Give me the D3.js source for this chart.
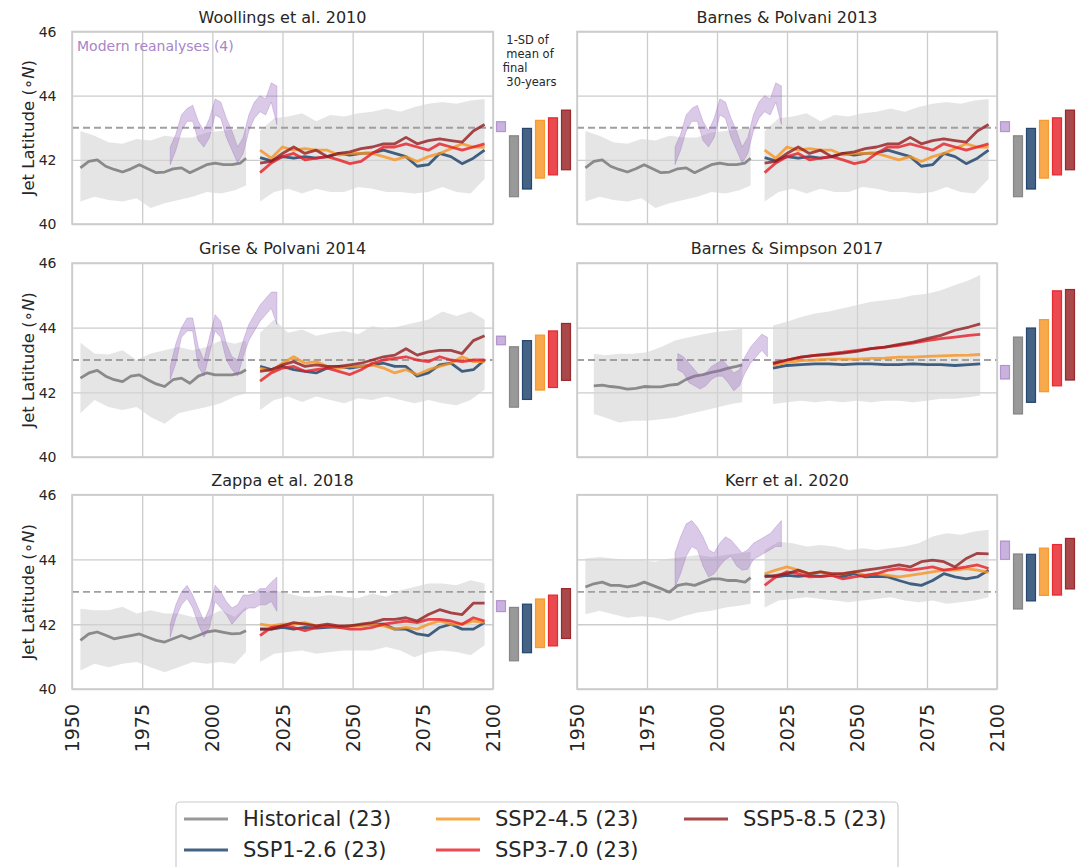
<!DOCTYPE html>
<html lang="en">
<head>
<meta charset="UTF-8">
<title>Jet Latitude projections</title>
<script src="https://d3js.org/d3.v7.min.js"></script>
<style>
  body { margin: 0; background: #fff; font-family: 'DejaVu Sans', sans-serif; }
  svg text { fill: #262626; font-family: 'DejaVu Sans', sans-serif; }
</style>
</head>
<body>
<svg id="chart" width="1085" height="867"></svg>
<script>
// ---- axes ----
const xTicks = [1950, 1975, 2000, 2025, 2050, 2075, 2100];
const yTicks = [40, 42, 44, 46];
const refLat = 43;

// ---- shared year grids ----
const histYears = [1953,1956,1959,1962,1965,1968,1971,1974,1977,1980,1983,1986,1989,1992,1995,1998,2001,2004,2007,2010,2012];
const histBandYears = [1953,1958,1963,1968,1973,1978,1983,1988,1993,1998,2003,2008,2012];
const scenYears = [2017,2021,2025,2029,2033,2037,2041,2045,2049,2053,2057,2061,2065,2069,2073,2077,2081,2085,2089,2093,2097];
const scenBandYears = [2017,2022,2027,2032,2037,2042,2047,2052,2057,2062,2067,2072,2077,2082,2087,2092,2097];
const reanYears = [1985,1987,1989,1991,1993,1995,1997,1999,2001,2003,2005,2007,2009,2011,2013,2015,2017,2019,2021,2023];

// Barnes & Simpson uses a wider smoothing window
const bsHistYears = [1956,1959,1962,1965,1968,1971,1974,1977,1980,1983,1986,1989,1992,1995,1998,2001,2004,2007,2009];
const bsHistBandYears = [1956,1960,1965,1970,1975,1980,1985,1990,1995,2000,2005,2009];
const bsScenYears = [2020,2025,2030,2035,2040,2045,2050,2055,2060,2065,2070,2075,2080,2085,2090,2094];
const bsReanYears = [1986,1988,1990,1992,1994,1996,1998,2000,2002,2004,2006,2008,2010,2012,2014,2016,2018];

// ---- Woollings et al. 2010 (also Barnes & Polvani 2013) ----
const woolHist = [41.75,41.95,42.0,41.8,41.7,41.62,41.72,41.85,41.72,41.6,41.62,41.72,41.75,41.6,41.72,41.85,41.9,41.85,41.85,41.9,42.05];
const woolHistHi = [42.9,42.75,42.55,42.5,42.65,42.6,42.75,42.7,42.7,42.85,42.9,42.95,43.0];
const woolHistLo = [40.7,40.85,40.75,40.7,40.8,40.5,40.65,40.75,40.85,41.0,40.95,41.05,41.2];
const woolScenHi = [42.9,43.3,43.35,43.45,43.2,43.4,43.35,43.45,43.5,43.6,43.5,43.65,43.75,43.8,43.75,43.85,43.9];
const woolScenLo = [40.7,41.0,41.1,40.95,41.1,41.0,41.0,41.15,41.1,41.0,41.0,40.95,41.0,41.15,41.0,40.95,41.4];
const woolSsp126 = [42.07,41.97,42.1,42.05,42.1,42.05,42.1,42.2,42.15,42.2,42.22,42.3,42.2,42.1,41.8,41.85,42.2,42.1,41.88,42.05,42.3];
const woolSsp245 = [42.3,42.05,42.4,42.3,42.35,42.3,42.3,42.15,42.2,42.2,42.2,42.1,42.0,42.1,41.95,42.1,42.2,42.35,42.5,42.4,42.4];
const woolSsp370 = [41.6,41.9,42.1,42.2,42.0,42.05,42.1,42.0,41.88,41.95,42.2,42.4,42.4,42.5,42.4,42.3,42.5,42.4,42.3,42.4,42.5];
const woolSsp585 = [41.9,41.95,42.2,42.4,42.2,42.3,42.1,42.2,42.25,42.35,42.4,42.5,42.5,42.7,42.5,42.6,42.65,42.6,42.55,42.9,43.1];
const woolReanHi = [42.4,42.8,43.4,43.6,43.7,43.2,42.9,43.3,43.9,43.8,43.3,42.9,42.4,42.7,43.4,43.8,44.0,43.9,44.4,44.3];
const woolReanLo = [41.85,42.3,42.9,43.2,43.2,42.6,42.4,42.7,43.4,43.3,42.7,42.3,41.9,42.2,42.9,43.3,43.5,43.4,43.8,43.1];
const woolBarLo = [42.88,40.85,41.09,41.43,41.53,41.69];
const woolBarHi = [43.19,42.75,42.98,43.23,43.31,43.55];

// ---- Grise & Polvani 2014 ----
const griseHist = [42.44,42.6,42.68,42.5,42.39,42.33,42.5,42.54,42.39,42.26,42.18,42.39,42.44,42.28,42.5,42.6,42.54,42.54,42.54,42.6,42.7];
const griseHistHi = [43.53,43.2,43.17,43.3,43.0,43.2,43.3,43.4,43.3,43.4,43.6,43.5,43.6];
const griseHistLo = [41.35,41.76,41.55,41.45,41.55,41.24,41.03,41.35,41.45,41.55,41.66,41.87,41.97];
const griseScenHi = [43.84,44.25,43.84,43.94,43.75,43.84,43.9,43.8,44.05,43.94,44.05,44.15,44.25,44.5,44.36,44.5,44.25];
const griseScenLo = [41.45,41.76,41.87,41.7,41.87,41.76,41.66,41.82,41.76,41.87,41.76,41.66,41.76,41.66,41.6,41.76,42.08];
const griseSsp126 = [42.8,42.7,42.8,42.7,42.65,42.6,42.75,42.8,42.75,42.8,42.85,42.9,42.8,42.8,42.5,42.6,42.85,42.9,42.65,42.7,43.0];
const griseSsp245 = [42.75,42.65,42.9,43.1,42.9,42.95,42.8,42.75,42.8,42.8,42.85,42.75,42.6,42.7,42.55,42.7,42.8,42.9,43.1,42.95,42.95];
const griseSsp370 = [42.35,42.6,42.75,42.8,42.65,42.7,42.75,42.65,42.55,42.7,42.9,43.0,43.05,43.1,43.0,42.95,43.1,43.0,42.95,43.0,43.0];
const griseSsp585 = [42.65,42.7,42.85,42.95,42.8,42.85,42.8,42.8,42.85,42.9,43.0,43.1,43.15,43.35,43.15,43.25,43.3,43.3,43.2,43.6,43.75];
const griseReanHi = [42.8,43.5,44.0,44.3,44.3,43.4,43.0,43.7,44.4,44.2,43.5,43.1,43.0,43.6,44.1,44.4,44.7,44.9,45.1,45.1];
const griseReanLo = [42.4,42.9,43.7,43.9,43.9,42.8,42.5,43.2,43.9,43.7,43.0,42.7,42.5,43.1,43.6,43.9,44.2,44.4,44.6,44.1];
const griseBarLo = [43.47,41.54,41.78,42.07,42.15,42.37];
const griseBarHi = [43.74,43.41,43.6,43.77,43.9,44.13];

// ---- Zappa et al. 2018 ----
const zappaHist = [41.5,41.7,41.76,41.66,41.55,41.6,41.65,41.7,41.6,41.5,41.45,41.55,41.65,41.55,41.65,41.76,41.8,41.75,41.7,41.72,41.8];
const zappaHistHi = [42.48,42.43,42.43,42.54,42.33,42.43,42.33,42.33,42.22,42.22,42.43,42.22,42.54];
const zappaHistLo = [40.57,40.78,40.67,40.78,40.83,40.67,40.52,40.67,40.83,40.78,40.83,40.78,41.14];
const zappaScenHi = [42.95,43.05,42.95,42.85,42.85,42.9,42.85,42.8,42.95,42.85,43.05,43.15,43.26,43.26,43.2,43.36,43.26];
const zappaScenLo = [40.83,41.09,41.14,41.19,41.09,41.14,41.19,41.19,41.19,41.3,41.19,40.98,41.14,41.19,41.14,41.04,41.35];
const zappaSsp126 = [41.85,41.85,41.9,41.85,41.9,41.88,41.9,41.92,41.95,41.97,42.0,42.0,41.85,41.85,41.7,41.65,41.9,42.0,41.85,41.85,42.05];
const zappaSsp245 = [42.0,41.95,42.0,42.0,42.05,41.95,41.95,41.9,41.95,41.95,42.0,41.95,41.85,41.9,41.85,42.0,42.1,42.0,42.0,42.1,42.05];
const zappaSsp370 = [41.65,41.9,41.95,41.9,41.8,41.9,41.95,41.9,41.85,41.85,41.9,42.0,42.05,42.1,42.05,42.15,42.15,42.1,42.0,42.2,42.1];
const zappaSsp585 = [41.85,41.85,41.95,42.05,42.0,41.95,42.0,41.95,41.95,42.0,42.05,42.15,42.15,42.2,42.1,42.3,42.45,42.35,42.3,42.65,42.65];
const zappaReanHi = [42.0,42.6,43.0,43.2,42.9,42.5,42.1,42.5,43.2,43.0,42.7,42.5,42.6,42.9,42.9,42.95,43.1,43.1,43.3,43.45];
const zappaReanLo = [41.6,42.2,42.6,42.8,42.5,42.0,41.6,41.9,42.7,42.5,42.3,42.0,42.2,42.4,42.5,42.5,42.6,42.6,42.7,42.4];
const zappaBarLo = [42.39,40.87,41.12,41.28,41.33,41.56];
const zappaBarHi = [42.73,42.52,42.62,42.78,42.9,43.1];

// ---- Barnes & Simpson 2017 ----
const bsHist = [42.2,42.22,42.18,42.15,42.1,42.12,42.18,42.17,42.17,42.22,42.25,42.4,42.5,42.55,42.62,42.67,42.75,42.8,42.85];
const bsHistHi = [43.19,43.15,43.19,43.19,43.24,43.4,43.6,43.7,43.8,43.87,43.92,43.97];
const bsHistLo = [41.33,41.22,41.07,41.12,41.12,41.17,41.22,41.33,41.43,41.53,41.64,41.69];
const bsScenHi = [44.07,44.18,44.33,44.44,44.5,44.6,44.7,44.8,44.85,44.9,45.0,45.05,45.16,45.32,45.47,45.63];
const bsScenLo = [41.64,41.69,41.74,41.69,41.74,41.69,41.74,41.69,41.74,41.74,41.69,41.74,41.8,41.8,41.85,41.9];
const bsSsp126 = [42.75,42.83,42.86,42.88,42.88,42.86,42.88,42.88,42.86,42.86,42.88,42.86,42.86,42.83,42.86,42.88];
const bsSsp245 = [42.83,42.93,42.98,43.0,43.03,43.03,43.03,43.05,43.06,43.09,43.09,43.11,43.13,43.14,43.15,43.17];
const bsSsp370 = [42.88,43.0,43.09,43.14,43.19,43.24,43.3,43.35,43.4,43.45,43.52,43.6,43.66,43.71,43.76,43.79];
const bsSsp585 = [42.9,43.0,43.09,43.14,43.17,43.21,43.27,43.35,43.4,43.48,43.55,43.66,43.76,43.92,44.02,44.12];
const bsReanHi = [43.2,43.1,42.9,42.7,42.5,42.6,42.8,42.9,43.0,42.8,42.6,42.7,43.1,43.4,43.6,43.8,43.7];
const bsReanLo = [42.7,42.6,42.3,42.2,42.1,42.2,42.4,42.5,42.5,42.3,42.05,42.2,42.6,42.9,43.1,43.3,43.1];
const bsBarLo = [42.41,41.33,41.69,42.02,42.2,42.38];
const bsBarHi = [42.83,43.71,43.99,44.25,45.14,45.18];

// ---- Kerr et al. 2020 ----
const kerrHist = [43.15,43.25,43.3,43.2,43.2,43.15,43.2,43.3,43.2,43.1,42.99,43.2,43.25,43.2,43.3,43.4,43.4,43.35,43.35,43.3,43.44];
const kerrHistHi = [44.03,44.08,44.03,43.98,43.98,43.93,44.03,44.08,44.14,44.08,44.14,44.19,44.24];
const kerrHistLo = [42.31,42.42,42.31,42.2,42.25,42.2,42.1,42.25,42.36,42.42,42.52,42.57,42.63];
const kerrScenHi = [44.29,44.55,44.5,44.4,44.45,44.4,44.29,44.35,44.29,44.35,44.4,44.5,44.71,44.81,44.76,44.86,44.92];
const kerrScenLo = [42.52,42.73,42.78,42.83,42.78,42.73,42.68,42.73,42.78,42.83,42.73,42.68,42.73,42.63,42.68,42.73,42.83];
const kerrSsp126 = [43.51,43.46,43.51,43.48,43.51,43.48,43.51,43.48,43.56,43.46,43.48,43.46,43.35,43.25,43.2,43.35,43.56,43.46,43.4,43.46,43.67];
const kerrSsp245 = [43.56,43.67,43.77,43.67,43.56,43.62,43.51,43.56,43.62,43.51,43.56,43.51,43.46,43.51,43.56,43.62,43.67,43.67,43.72,43.67,43.6];
const kerrSsp370 = [43.2,43.46,43.62,43.56,43.46,43.48,43.51,43.4,43.46,43.51,43.56,43.67,43.72,43.67,43.72,43.77,43.67,43.72,43.77,43.83,43.72];
const kerrSsp585 = [43.46,43.51,43.56,43.67,43.56,43.62,43.56,43.56,43.62,43.67,43.72,43.77,43.83,43.77,43.93,43.98,43.93,43.77,44.03,44.19,44.17];
const kerrReanHi = [44.2,44.7,45.1,45.2,45.0,44.7,44.3,44.2,44.5,44.7,44.6,44.4,44.2,44.3,44.5,44.6,44.7,44.8,45.0,45.2];
const kerrReanLo = [43.15,43.56,44.1,44.4,44.3,43.8,43.46,43.56,43.8,44.0,44.1,43.8,43.67,43.7,44.0,44.1,44.2,44.3,44.4,44.4];
const kerrBarLo = [44.0,42.47,42.72,42.89,42.9,43.09];
const kerrBarHi = [44.57,44.17,44.16,44.35,44.46,44.65];

// ---- legend ----
const legendLabels = ["Historical (23)", "SSP1-2.6 (23)", "SSP2-4.5 (23)", "SSP3-7.0 (23)", "SSP5-8.5 (23)"];

// colours (IPCC scenario palette, drawn at 0.8 alpha)
const histColor = "#808080";
const sspColors = ["#173c66", "#f79420", "#e71d25", "#951b1e"];
const reanColor = "#9467bd";
const barColors = [reanColor, histColor].concat(sspColors);

// layout
const cols = [{x0: 72, x1: 493}, {x0: 577, x1: 997}];
const rows = [{y0: 31.5, y1: 224}, {y0: 263, y1: 457}, {y0: 494.7, y1: 689}];

const zip = (xs, ys) => xs.map((v, i) => [v, ys[i]]);

function panelData(title, col, row, yrs, h, hHi, hLo, sHi, sLo, sspArr, rHi, rLo, bLo, bHi) {
  return {
    title, col, row,
    hist: zip(yrs.hist, h),
    histBand: yrs.histBand.map((v, i) => ({x: v, lo: hLo[i], hi: hHi[i]})),
    scenBand: yrs.scenBand.map((v, i) => ({x: v, lo: sLo[i], hi: sHi[i]})),
    ssp: sspArr.map(a => zip(yrs.scen, a)),
    rean: yrs.rean.map((v, i) => ({x: v, lo: rLo[i], hi: rHi[i]})),
    bars: bLo.map((v, i) => ({i, lo: v, hi: bHi[i]}))
  };
}

const stdYears = {hist: histYears, histBand: histBandYears, scen: scenYears, scenBand: scenBandYears, rean: reanYears};
const bsYears = {hist: bsHistYears, histBand: bsHistBandYears, scen: bsScenYears, scenBand: bsScenYears, rean: bsReanYears};

const panels = [
  panelData("Woollings et al. 2010", 0, 0, stdYears, woolHist, woolHistHi, woolHistLo, woolScenHi, woolScenLo,
    [woolSsp126, woolSsp245, woolSsp370, woolSsp585], woolReanHi, woolReanLo, woolBarLo, woolBarHi),
  panelData("Barnes & Polvani 2013", 1, 0, stdYears, woolHist, woolHistHi, woolHistLo, woolScenHi, woolScenLo,
    [woolSsp126, woolSsp245, woolSsp370, woolSsp585], woolReanHi, woolReanLo, woolBarLo, woolBarHi),
  panelData("Grise & Polvani 2014", 0, 1, stdYears, griseHist, griseHistHi, griseHistLo, griseScenHi, griseScenLo,
    [griseSsp126, griseSsp245, griseSsp370, griseSsp585], griseReanHi, griseReanLo, griseBarLo, griseBarHi),
  panelData("Barnes & Simpson 2017", 1, 1, bsYears, bsHist, bsHistHi, bsHistLo, bsScenHi, bsScenLo,
    [bsSsp126, bsSsp245, bsSsp370, bsSsp585], bsReanHi, bsReanLo, bsBarLo, bsBarHi),
  panelData("Zappa et al. 2018", 0, 2, stdYears, zappaHist, zappaHistHi, zappaHistLo, zappaScenHi, zappaScenLo,
    [zappaSsp126, zappaSsp245, zappaSsp370, zappaSsp585], zappaReanHi, zappaReanLo, zappaBarLo, zappaBarHi),
  panelData("Kerr et al. 2020", 1, 2, stdYears, kerrHist, kerrHistHi, kerrHistLo, kerrScenHi, kerrScenLo,
    [kerrSsp126, kerrSsp245, kerrSsp370, kerrSsp585], kerrReanHi, kerrReanLo, kerrBarLo, kerrBarHi)
];

const svg = d3.select("#chart");

function drawPanel(p) {
  const c = cols[p.col], r = rows[p.row];
  const x = d3.scaleLinear().domain([1950, 2100]).range([c.x0, c.x1]);
  const y = d3.scaleLinear().domain([40, 46]).range([r.y1, r.y0]);
  const w = c.x1 - c.x0, h = r.y1 - r.y0;
  const g = svg.append("g");

  // grid via axes
  const xa = g.append("g")
    .attr("transform", `translate(0,${r.y1})`)
    .call(d3.axisBottom(x).tickValues(xTicks).tickSize(-h).tickFormat(d3.format("d")));
  const ya = g.append("g")
    .attr("transform", `translate(${c.x0},0)`)
    .call(d3.axisLeft(y).tickValues(yTicks).tickSize(-w).tickPadding(15.5).tickFormat(d3.format("d")));
  g.selectAll(".domain").remove();
  g.selectAll(".tick line").attr("stroke", "#cccccc").attr("stroke-width", 1.3);

  if (p.row === 2) {
    xa.selectAll("text")
      .attr("transform", "rotate(-90)")
      .attr("text-anchor", "end")
      .attr("x", -15).attr("y", 0).attr("dy", "0.35em")
      .style("font-size", "19px");
  } else {
    xa.selectAll("text").remove();
  }
  if (p.col === 0) {
    ya.selectAll("text").style("font-size", "14px").attr("dy", "0.35em");
    const yl = g.append("text")
      .attr("transform", `translate(28,${(r.y0 + r.y1) / 2}) rotate(-90)`)
      .attr("text-anchor", "middle")
      .attr("dy", "0.35em")
      .style("font-size", "16.5px");
    yl.append("tspan").text("Jet Latitude (\u2218");
    yl.append("tspan").style("font-style", "italic").text("N");
    yl.append("tspan").text(")");
  } else {
    ya.selectAll("text").remove();
  }

  const area = d3.area().x(d => x(d.x)).y0(d => y(d.lo)).y1(d => y(d.hi));
  const line = d3.line().x(d => x(d[0])).y(d => y(d[1]));

  // model spread bands
  g.append("path").datum(p.histBand).attr("d", area)
    .attr("fill", "#d3d3d3").attr("fill-opacity", 0.6);
  g.append("path").datum(p.scenBand).attr("d", area)
    .attr("fill", "#d3d3d3").attr("fill-opacity", 0.6);

  // reference latitude
  g.append("line")
    .attr("x1", c.x0).attr("x2", c.x1)
    .attr("y1", y(refLat)).attr("y2", y(refLat))
    .attr("stroke", "#a0a0a0").attr("stroke-width", 1.8)
    .attr("stroke-dasharray", "7,4");

  // historical mean
  g.append("path").datum(p.hist).attr("d", line)
    .attr("fill", "none").attr("stroke", histColor).attr("stroke-opacity", 0.9)
    .attr("stroke-width", 2.8).attr("stroke-linejoin", "round");

  // reanalyses
  g.append("path").datum(p.rean).attr("d", area)
    .attr("fill", reanColor).attr("fill-opacity", 0.35)
    .attr("stroke", reanColor).attr("stroke-opacity", 0.3).attr("stroke-width", 1);

  // scenarios
  p.ssp.forEach((s, i) => {
    g.append("path").datum(s).attr("d", line)
      .attr("fill", "none").attr("stroke", sspColors[i]).attr("stroke-opacity", 0.8)
      .attr("stroke-width", 2.8).attr("stroke-linejoin", "round");
  });

  // frame
  g.append("rect")
    .attr("x", c.x0).attr("y", r.y0).attr("width", w).attr("height", h)
    .attr("fill", "none").attr("stroke", "#cccccc").attr("stroke-width", 1.6);

  // title
  g.append("text")
    .attr("x", (c.x0 + c.x1) / 2).attr("y", r.y0 - 9)
    .attr("text-anchor", "middle")
    .style("font-size", "16px")
    .text(p.title);

  // 1-SD bars of final 30-year mean
  const bx = d3.scaleBand().domain(d3.range(6))
    .range([c.x1 + 3.5, c.x1 + 77.5]).paddingInner(4 / 13).paddingOuter(0);
  g.selectAll(".sd").data(p.bars).join("rect")
    .attr("x", d => bx(d.i)).attr("width", bx.bandwidth())
    .attr("y", d => y(d.hi)).attr("height", d => y(d.lo) - y(d.hi))
    .attr("fill", d => barColors[d.i])
    .attr("fill-opacity", d => d.i === 0 ? 0.5 : 0.8)
    .attr("stroke", d => barColors[d.i])
    .attr("stroke-opacity", d => d.i === 0 ? 0.6 : 0.9)
    .attr("stroke-width", 1.2);
}

panels.forEach(drawPanel);

// annotations
svg.append("text")
  .attr("x", 77).attr("y", 51)
  .style("font-size", "14px").style("fill", "#a685c8")
  .text("Modern reanalyses (4)");

const sdNote = svg.append("text")
  .attr("x", 502.7).attr("y", 44)
  .style("font-size", "11.5px").style("white-space", "pre");
[" 1-SD of", " mean of", "final", " 30-years"].forEach((t, i) => {
  sdNote.append("tspan").attr("x", 502.7).attr("y", 44 + i * 14).text(t);
});

// legend
const lg = svg.append("g");
lg.append("rect")
  .attr("x", 176).attr("y", 802).attr("width", 722).attr("height", 80)
  .attr("rx", 4).attr("fill", "#fff").attr("stroke", "#cccccc").attr("stroke-width", 1.2);
const legendColors = [histColor].concat(sspColors);
const legendPos = [[184, 819], [184, 850], [436, 819], [436, 850], [684, 819]];
legendLabels.forEach((lab, i) => {
  const [lx, ly] = legendPos[i];
  lg.append("line")
    .attr("x1", lx).attr("x2", lx + 44).attr("y1", ly).attr("y2", ly)
    .attr("stroke", legendColors[i]).attr("stroke-opacity", 0.8).attr("stroke-width", 3);
  lg.append("text")
    .attr("x", lx + 59).attr("y", ly).attr("dy", "0.35em")
    .style("font-size", "21px")
    .text(lab);
});
</script>
</body>
</html>
